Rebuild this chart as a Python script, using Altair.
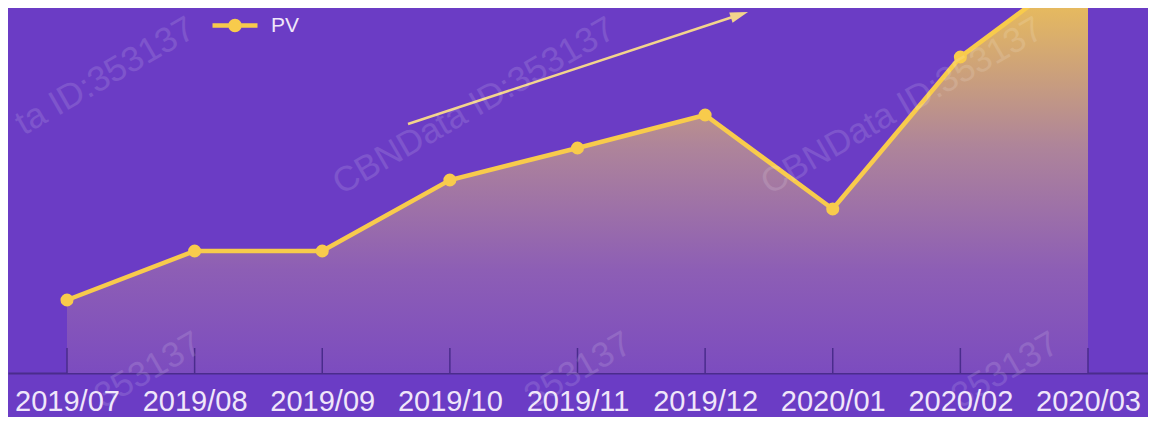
import altair as alt
import pandas as pd

# ---- data ----
months = ["2019/07", "2019/08", "2019/09", "2019/10", "2019/11",
          "2019/12", "2020/01", "2020/02", "2020/03"]
pv = [73, 122, 122, 193, 225, 258, 164, 316, 411]
series_name = "PV"

# decorative arrow (trend) in data units: month index / PV index
arrow_x = [2.672, 5.269]
arrow_v = [249, 358.2]

# watermark fragments visible in the picture (month index / PV index)
wm_x = [0.298, 3.189, 6.543, 0.635, 4.004, 7.350]
wm_v = [297, 267, 267, 3, 3, 3]
wm_text = ["ta ID:353137", "CBNData ID:353137", "CBNData ID:353137",
           "353137", "353137", "353137"]

# ---- styling ----
BG = "#6B3CC5"
YELLOW = "#F8CB4C"
ARROW = "#F3D48C"
TICK = "#4A2C8C"
LABEL = "#F0E6FA"

df = pd.DataFrame({"idx": list(range(len(months))), "month": months, "pv": pv,
                   "series": [series_name] * len(months)})
arrow_df = pd.DataFrame({"idx": arrow_x, "pv": arrow_v, "order": [0, 1]})
head_df = arrow_df.iloc[[1]]
wm_df = pd.DataFrame({"idx": wm_x, "pv": wm_v, "t": wm_text})
tick_df = pd.DataFrame({"idx": list(range(len(months))), "pv": [0] * len(months),
                        "y1": [25] * len(months)})

dmin = -0.46229
dmax = 8.47013
label_expr = "[" + ",".join("'%s'" % m for m in months) + "][datum.value]"

xscale = alt.Scale(domain=[dmin, dmax], nice=False, zero=False)
yscale = alt.Scale(domain=[0, 365], nice=False, zero=True)

x_axis = alt.Axis(values=list(range(len(months))), labelExpr=label_expr,
                  title=None, grid=False, ticks=False, tickSize=0,
                  labelFontSize=29, labelColor=LABEL, labelFont="Liberation Sans",
                  labelPadding=14, labelFlush=False, labelOverlap=False,
                  labelBound=False, domainColor=TICK, domainWidth=2)

X = alt.X("idx:Q", scale=xscale, axis=x_axis)
Xn = alt.X("idx:Q")
Y = alt.Y("pv:Q", scale=yscale, axis=None)
Yn = alt.Y("pv:Q")

gradient = alt.Gradient(
    gradient="linear", x1=0, x2=0, y1=0, y2=1,
    stops=[alt.GradientStop(color=YELLOW, offset=0),
           alt.GradientStop(color="#AE849A", offset=0.45),
           alt.GradientStop(color="#8D5EB5", offset=0.75),
           alt.GradientStop(color="#7C4CBF", offset=1)])

area = alt.Chart(df).mark_area(clip=True, color=gradient).encode(x=X, y=Y)

ticks = alt.Chart(tick_df).mark_rule(color=TICK, strokeWidth=1.5).encode(
    x=Xn, y=Yn, y2="y1:Q")

line = alt.Chart(df).mark_line(clip=True, color=YELLOW, strokeWidth=4.5).encode(x=Xn, y=Yn)

legend_path = ("M-1,-0.1L1,-0.1L1,0.1L-1,0.1Z "
               "M0.3,0A0.3,0.3,0,1,1,-0.3,0A0.3,0.3,0,1,1,0.3,0Z")

points = alt.Chart(df).mark_point(clip=True, filled=True, size=170, opacity=1).encode(
    x=Xn, y=Yn,
    color=alt.Color("series:N", scale=alt.Scale(range=[YELLOW]),
                    legend=alt.Legend(orient="none", legendX=204.5, legendY=-5,
                                      title=None, padding=0,
                                      symbolType=legend_path, symbolSize=2025,
                                      symbolStrokeWidth=0, symbolFillColor=YELLOW,
                                      symbolOpacity=1,
                                      labelFontSize=21, labelColor=LABEL,
                                      labelFont="Liberation Sans", labelOffset=13.5)))

arrow_line = alt.Chart(arrow_df).mark_line(color=ARROW, strokeWidth=2.5).encode(
    x=Xn, y=Yn, order="order:Q")

arrow_head = alt.Chart(head_df).mark_point(
    filled=True, color=ARROW, opacity=1, size=324, angle=341.8,
    shape="M-1,-0.6L1,0L-1,0.6Z").encode(x=Xn, y=Yn)

watermark = alt.Chart(wm_df).mark_text(
    angle=330, fontSize=35, font="Liberation Sans", color="#FFFFFF",
    opacity=0.13, align="center", baseline="middle").encode(x=Xn, y=Yn, text="t:N")

chart = alt.layer(area, ticks, line, points, arrow_line, arrow_head, watermark).properties(
    width=1140, height=365,
    autosize=alt.AutoSizeParams(type="none"),
    padding={"left": 0, "top": 0, "right": 0, "bottom": 44},
    background=BG,
).configure_view(stroke=None)

chart.save("out.html", embed_options={"renderer": "svg", "actions": False})
